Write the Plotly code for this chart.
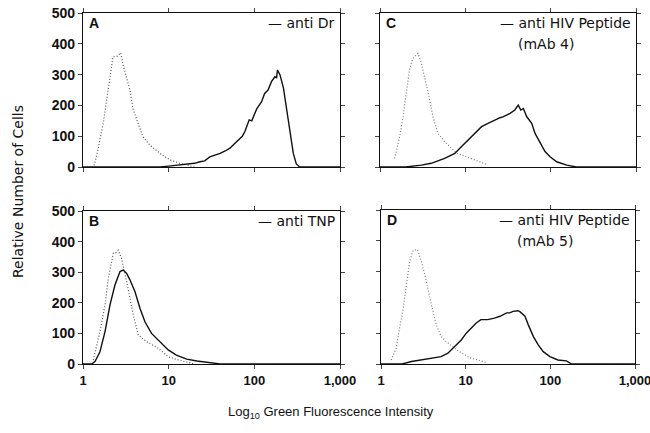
import plotly.graph_objects as go

W, H = 650, 433

# ---- data (x given as log10 of green fluorescence intensity, y = relative number of cells)
a_ctrl_log = [0.13, 0.17, 0.237, 0.295, 0.335, 0.35, 0.40, 0.44, 0.47, 0.51, 0.548, 0.587, 0.645, 0.70, 0.78, 0.90, 1.015, 1.13, 1.22, 1.30]
a_ctrl_cnt = [5, 50, 143, 261, 331, 358, 360, 371, 330, 293, 250, 185, 142, 98, 71, 44, 23, 12, 6, 0]
a_anti_log = [0.0, 0.9, 1.0, 1.1, 1.2, 1.3, 1.365, 1.42, 1.48, 1.54, 1.60, 1.66, 1.715, 1.774, 1.80, 1.83, 1.86, 1.89, 1.94, 1.97, 1.99, 2.03, 2.085, 2.12, 2.16, 2.20, 2.24, 2.26, 2.27, 2.30, 2.34, 2.38, 2.415, 2.455, 2.49, 2.53, 3.0]
a_anti_cnt = [0, 0, 3, 6, 8, 12, 17, 20, 33, 38, 44, 52, 61, 77, 85, 93, 100, 115, 153, 150, 163, 190, 212, 239, 250, 277, 293, 290, 315, 299, 256, 185, 109, 44, 10, 0, 0]

b_ctrl_log = [0.12, 0.198, 0.257, 0.295, 0.354, 0.39, 0.41, 0.45, 0.51, 0.548, 0.587, 0.645, 0.74, 0.86, 1.0, 1.13, 1.30]
b_ctrl_cnt = [13, 106, 193, 280, 362, 365, 372, 345, 269, 215, 160, 95, 73, 55, 23, 12, 0]
b_anti_log = [0.0, 0.10, 0.14, 0.198, 0.257, 0.315, 0.373, 0.432, 0.47, 0.51, 0.548, 0.607, 0.665, 0.723, 0.80, 0.90, 0.995, 1.09, 1.21, 1.33, 1.44, 1.6, 3.0]
b_anti_cnt = [0, 0, 8, 40, 106, 193, 258, 302, 307, 296, 275, 236, 182, 138, 100, 73, 46, 29, 16, 10, 5, 0, 0]

c_ctrl_log = [0.172, 0.23, 0.27, 0.31, 0.348, 0.387, 0.445, 0.485, 0.524, 0.583, 0.62, 0.68, 0.758, 0.90, 1.11, 1.25]
c_ctrl_cnt = [28, 98, 163, 250, 320, 353, 369, 337, 293, 218, 163, 109, 82, 45, 23, 8]
c_anti_log = [0.0, 0.3, 0.485, 0.60, 0.758, 0.876, 0.953, 1.03, 1.11, 1.19, 1.266, 1.345, 1.407, 1.44, 1.524, 1.58, 1.62, 1.65, 1.68, 1.72, 1.778, 1.817, 1.876, 1.934, 1.993, 2.07, 2.19, 2.3, 3.0]
c_anti_cnt = [0, 0, 6, 12, 28, 44, 66, 88, 109, 131, 142, 153, 160, 163, 174, 185, 201, 185, 190, 163, 142, 109, 77, 50, 33, 17, 6, 0, 0]

d_ctrl_log = [0.12, 0.18, 0.22, 0.26, 0.30, 0.34, 0.378, 0.43, 0.476, 0.535, 0.594, 0.653, 0.71, 0.77, 0.90, 1.05, 1.25]
d_ctrl_cnt = [13, 51, 117, 176, 258, 334, 367, 372, 334, 269, 193, 127, 89, 73, 45, 20, 5]
d_anti_log = [0.0, 0.25, 0.36, 0.476, 0.594, 0.71, 0.79, 0.87, 0.948, 1.007, 1.066, 1.125, 1.18, 1.26, 1.34, 1.405, 1.484, 1.52, 1.56, 1.617, 1.64, 1.70, 1.74, 1.80, 1.857, 1.916, 1.995, 2.09, 2.19, 2.25, 3.0]
d_anti_cnt = [0, 0, 8, 13, 19, 24, 35, 57, 78, 100, 117, 133, 144, 144, 149, 155, 166, 166, 171, 173, 170, 155, 127, 89, 62, 40, 24, 13, 10, 0, 0]

x_tickvals = [1, 10, 100, 1000]
x_ticktext = ["1", "10", "100", "1,000"]
y_tickvals = [0, 100, 200, 300, 400, 500]

panels = [
    ("A", a_ctrl_log, a_ctrl_cnt, a_anti_log, a_anti_cnt, ["— anti Dr"]),
    ("B", b_ctrl_log, b_ctrl_cnt, b_anti_log, b_anti_cnt, ["— anti TNP"]),
    ("C", c_ctrl_log, c_ctrl_cnt, c_anti_log, c_anti_cnt, ["— anti HIV Peptide", "(mAb 4)"]),
    ("D", d_ctrl_log, d_ctrl_cnt, d_anti_log, d_anti_cnt, ["— anti HIV Peptide", "(mAb 5)"]),
]

# pixel boxes (left, right, top, bottom)
boxes = {
    "A": (83, 340, 13, 167),
    "B": (83, 340, 211, 364),
    "C": (380, 636, 13, 167),
    "D": (381, 635, 210, 364),
}

FONT = "Liberation Sans, Arial, sans-serif"
LFONT = "DejaVu Sans, sans-serif"
fig = go.Figure()
annotations = []

for i, (name, cl, cc, al, ac, leg) in enumerate(panels):
    idx = "" if i == 0 else str(i + 1)
    xa, ya = "x" + idx, "y" + idx
    l, r, t, b = boxes[name]
    ctrl_col = "#555555" if name in ("A", "B") else "#7a7a7a"
    fig.add_trace(go.Scatter(x=[10 ** v for v in cl], y=cc, mode="lines", xaxis=xa, yaxis=ya,
                             line=dict(color=ctrl_col, width=1.2, dash="1px,2px"), showlegend=False))
    fig.add_trace(go.Scatter(x=[10 ** v for v in al], y=ac, mode="lines", xaxis=xa, yaxis=ya,
                             line=dict(color="#111111", width=1.4), showlegend=False))
    bottom = name in ("B", "D")
    left = name in ("A", "B")
    fig.update_layout(**{
        "xaxis" + idx: dict(domain=[l / W, r / W], type="log", range=[0, 3], anchor=ya,
                            tickvals=x_tickvals, ticktext=x_ticktext,
                            showticklabels=bottom, ticks="outside", ticklen=4, tickwidth=1,
                            showline=True, linecolor="#111", linewidth=1.3, mirror="ticks",
                            showgrid=False, zeroline=False, automargin=False,
                            ticklabeloverflow="allow",
                            tickfont=dict(family=FONT, size=13, color="#111", weight="bold")),
        "yaxis" + idx: dict(domain=[1 - b / H, 1 - t / H], range=[0, 500], anchor=xa,
                            tickvals=y_tickvals, showticklabels=left, ticks="outside", ticklen=4,
                            tickwidth=1, showline=True, linecolor="#111", linewidth=1.3, mirror="ticks",
                            showgrid=False, zeroline=False, automargin=False,
                            tickfont=dict(family=FONT, size=14, color="#111", weight="bold")),
    })
    annotations.append(dict(x=(l + 4) / W, y=1 - (t + 10) / H, xref="paper", yref="paper",
                            text="<b>%s</b>" % name, showarrow=False, xanchor="left", yanchor="middle",
                            font=dict(family=FONT, size=14, color="#111")))
    annotations.append(dict(x=(r - 3) / W, y=1 - (t + 10) / H, xref="paper", yref="paper",
                            text=leg[0], showarrow=False, xanchor="right", yanchor="middle",
                            font=dict(family=LFONT, size=14, color="#111")))
    if len(leg) > 1:
        annotations.append(dict(x=(r - 90) / W, y=1 - (t + 31) / H, xref="paper", yref="paper",
                                text=leg[1], showarrow=False, xanchor="center", yanchor="middle",
                                font=dict(family=LFONT, size=14, color="#111")))

annotations.append(dict(x=18 / W, y=1 - 192 / H, xref="paper", yref="paper", text="Relative Number of Cells",
                        textangle=-90, showarrow=False, xanchor="center", yanchor="middle",
                        font=dict(family=LFONT, size=14, color="#111")))
annotations.append(dict(x=331 / W, y=1 - 412 / H, xref="paper", yref="paper",
                        text="Log<sub>10</sub> Green Fluorescence Intensity",
                        showarrow=False, xanchor="center", yanchor="middle",
                        font=dict(family=FONT, size=13, color="#111")))

fig.update_layout(width=W, height=H, margin=dict(l=0, r=0, t=0, b=0),
                  plot_bgcolor="white", paper_bgcolor="white", annotations=annotations)

fig.write_html("out.html", config={"displayModeBar": False},
               post_script="document.body.style.margin='0';document.body.style.overflow='hidden';")
